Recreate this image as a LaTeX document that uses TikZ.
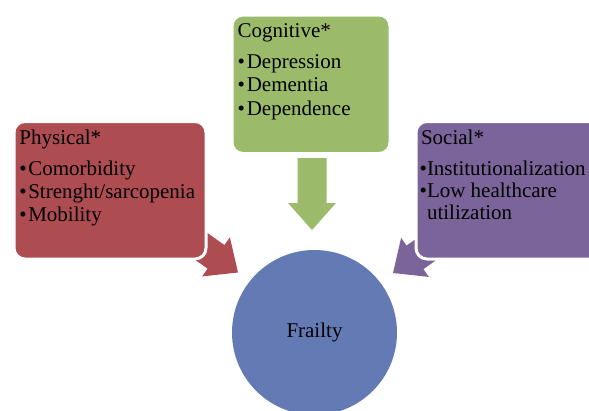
\documentclass[tikz,border=0pt]{standalone}
\usepackage{fontspec}
\setmainfont{Liberation Serif}
\definecolor{redc}{RGB}{173,76,81}
\definecolor{greenc}{RGB}{155,187,106}
\definecolor{purplec}{RGB}{123,100,154}
\definecolor{bluec}{RGB}{99,122,180}
\tikzset{
  fatarrow/.pic={\fill[pic actions] (0,0) -- (-27,24) -- (-27,14.5) -- (-72,14.5) -- (-72,-14.5) -- (-27,-14.5) -- (-27,-24) -- cycle;},
  catbox/.style={draw=white, line width=3pt, rounded corners=11pt, anchor=north west, inner sep=0pt, outer sep=0pt},
  txt/.style={anchor=base west, inner sep=0pt, outer sep=0pt, font=\fontsize{21}{24}\selectfont},
}
\begin{document}
\begin{tikzpicture}[x=1pt,y=-1pt]
\useasboundingbox (0,0) rectangle (589,410);
\clip (0,0) rectangle (589,410);
% arrow tips
\coordinate (redtip) at (238,272.5);
\coordinate (greentip) at (312,230);
\coordinate (purpletip) at (393,273);
\pic[fill=redc, rotate=-35.4] at (redtip) {fatarrow};
\pic[fill=greenc, rotate=-90] at (greentip) {fatarrow};
\pic[fill=purplec, rotate=-144.6] at (purpletip) {fatarrow};
% boxes
\node[catbox, fill=redc, minimum width=192pt, minimum height=137.5pt] (phys) at (14,121.5) {};
\node[catbox, fill=greenc, minimum width=158pt, minimum height=138.5pt] (cogn) at (232,15) {};
\node[catbox, fill=purplec, minimum width=192pt, minimum height=137.5pt] (soc) at (416,121.5) {};
% circle
\node[circle, fill=bluec, minimum size=165pt, inner sep=0pt, font=\fontsize{21}{24}\selectfont] (frail) at (314.5,332.5) {Frailty};
% physical texts
\node[txt] (physT) at (19.5,144.5) {Physical*};
\node[txt] (physb1) at (19.5,175) {•};
\node[txt] (phys1) at (28.3,175) {Comorbidity};
\node[txt] (physb2) at (19.5,198.3) {•};
\node[txt] (phys2) at (28.3,198.3) {Strenght/sarcopenia};
\node[txt] (physb3) at (19.5,221.7) {•};
\node[txt] (phys3) at (28.3,221.7) {Mobility};
% cognitive texts
\node[txt] (cognT) at (237.5,37.7) {Cognitive*};
\node[txt] (cognb1) at (237.5,68.3) {•};
\node[txt] (cogn1) at (246.8,68.3) {Depression};
\node[txt] (cognb2) at (237.5,91.7) {•};
\node[txt] (cogn2) at (246.8,91.7) {Dementia};
\node[txt] (cognb3) at (237.5,115) {•};
\node[txt] (cogn3) at (246.8,115) {Dependence};
% social texts
\node[txt] (socT) at (421,144.7) {Social*};
\node[txt] (socb1) at (419.5,175.5) {•};
\node[txt] (soc1) at (427,175.5) {Institutionalization};
\node[txt] (socb2) at (419.5,197.5) {•};
\node[txt] (soc2) at (427,197.5) {Low healthcare};
\node[txt] (soc3) at (427,219.5) {utilization};
\end{tikzpicture}
\end{document}
